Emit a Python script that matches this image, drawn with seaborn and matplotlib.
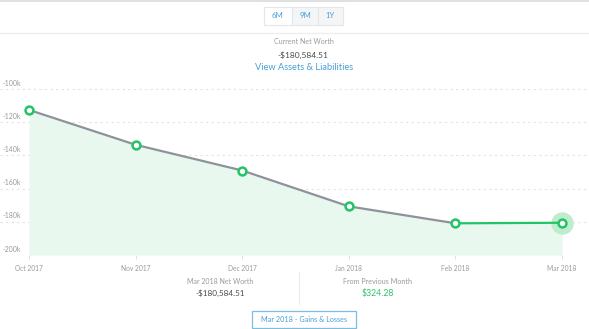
import matplotlib
matplotlib.use("Agg")
import matplotlib.pyplot as plt
import matplotlib.patches as mpatches
import matplotlib.transforms as mtransforms
import seaborn as sns
import pandas as pd

months = ["Oct 2017", "Nov 2017", "Dec 2017", "Jan 2018", "Feb 2018", "Mar 2018"]
net_worth = [-112600, -133600, -149100, -170700, -180908.79, -180584.51]
y_ticks = [-100000, -120000, -140000, -160000, -180000, -200000]
y_tick_labels = ["-100k", "-120k", "-140k", "-160k", "-180k", "-200k"]
range_buttons = ["6M", "9M", "1Y"]

sns.set_theme(style="white")
plt.rcParams["font.family"] = ["Lato", "DejaVu Sans"]

BLUE = "#4a9fd8"
GREEN = "#22c565"
GRAY_TXT = "#9a9a9a"
DARK_TXT = "#4a4a4a"

W, H = 589, 329
fig = plt.figure(figsize=(W / 100, H / 100), dpi=100)

def px(x, y):
    return x / W, 1 - y / H

ax_top, ax_bot = 75, 255
ax = fig.add_axes([0, 1 - ax_bot / H, 1, (ax_bot - ax_top) / H])
df = pd.DataFrame({"idx": range(len(months)), "month": months, "value": net_worth})

x_left = 29
x_right = 562
unit = (x_right - x_left) / (len(months) - 1)
ax.set_xlim(-x_left / unit, (len(months) - 1) + (W - x_right) / unit)
per_px = 100000 / 166
ax.set_ylim(-200000, -100000 + (89 - ax_top) * per_px)

ax.fill_between(df["idx"], df["value"], -200000, color="#e9f8ef", zorder=1, linewidth=0)
for t in y_ticks:
    ax.axhline(t, color="#e2e2e2", linestyle=(0, (2, 3)), linewidth=0.8, zorder=0.5)

sns.lineplot(data=df.iloc[:-1], x="idx", y="value", ax=ax, color="#8e939b",
             linewidth=1.6, zorder=3, legend=False)
sns.lineplot(data=df.iloc[-2:], x="idx", y="value", ax=ax, color=GREEN,
             linewidth=1.6, zorder=3, legend=False)
ax.scatter(df["idx"].iloc[-1:], df["value"].iloc[-1:], s=260, color="#bfeccf",
           zorder=2.5, linewidths=0)
sns.scatterplot(data=df, x="idx", y="value", ax=ax, s=32, color="white",
                edgecolor=GREEN, linewidth=1.8, zorder=4, legend=False)

for sp in ax.spines.values():
    sp.set_visible(False)
ax.set_xlabel("")
ax.set_ylabel("")
ax.set_xticks(df["idx"])
ax.set_xticklabels(months, fontsize=4.8, color=GRAY_TXT)
ax.tick_params(axis="x", length=3, width=0.6, color="#dddddd", pad=4, bottom=True)
ax.set_yticks([])

trans = mtransforms.blended_transform_factory(ax.transAxes, ax.transData)
for t, lab in zip(y_ticks, y_tick_labels):
    ax.text(3 / W, t + 6 * per_px, lab, transform=trans, fontsize=5.0,
            color=GRAY_TXT, ha="left", va="center")

fig.add_artist(plt.Line2D([0, 1], [1 - 0.5 / H, 1 - 0.5 / H], color="#dcdcdc", linewidth=1.2))
fig.add_artist(plt.Line2D([0, 1], [1 - 33 / H, 1 - 33 / H], color="#efefef", linewidth=1.0))

btn_edges = [264, 292, 318, 343]
for i, lab in enumerate(range_buttons):
    x0, x1 = btn_edges[i], btn_edges[i + 1]
    fc = "white" if i == 0 else "#f3f5f7"
    rect = mpatches.Rectangle(px(x0, 25), (x1 - x0) / W, 18 / H, transform=fig.transFigure,
                              facecolor=fc, edgecolor="#e3e6ea", linewidth=0.8)
    fig.add_artist(rect)
    cx, cy = px((x0 + x1) / 2, 16)
    fig.text(cx, cy, lab, fontsize=5.6, color=BLUE, ha="center", va="center")

fig.text(*px(304, 42), "Current Net Worth", fontsize=5.0, color=GRAY_TXT, ha="center", va="center")
fig.text(*px(303, 55.5), "-$180,584.51", fontsize=6.0, color=DARK_TXT, ha="center", va="center")
fig.text(*px(304, 67.5), "View Assets & Liabilities", fontsize=6.7, color=BLUE, ha="center", va="center")

fig.text(*px(220, 281), "Mar 2018 Net Worth", fontsize=5.0, color=GRAY_TXT, ha="center", va="center")
fig.text(*px(220.5, 293.5), "-$180,584.51", fontsize=5.9, color=DARK_TXT, ha="center", va="center")
fig.text(*px(377.5, 281), "From Previous Month", fontsize=5.2, color=GRAY_TXT, ha="center", va="center")
fig.text(*px(377.5, 293.5), "$324.28", fontsize=6.3, color="#2ec46d", ha="center", va="center")
fig.add_artist(plt.Line2D([299 / W, 299 / W], [1 - 272 / H, 1 - 304 / H], color="#ececec", linewidth=0.8))

rect = mpatches.Rectangle(px(252, 328), 104 / W, 17 / H, transform=fig.transFigure,
                          facecolor="white", edgecolor="#7cbde6", linewidth=0.9)
fig.add_artist(rect)
fig.text(*px(304, 319.5), "Mar 2018 - Gains & Losses", fontsize=5.25, color=BLUE, ha="center", va="center")

fig.savefig("out.png", dpi=100)
